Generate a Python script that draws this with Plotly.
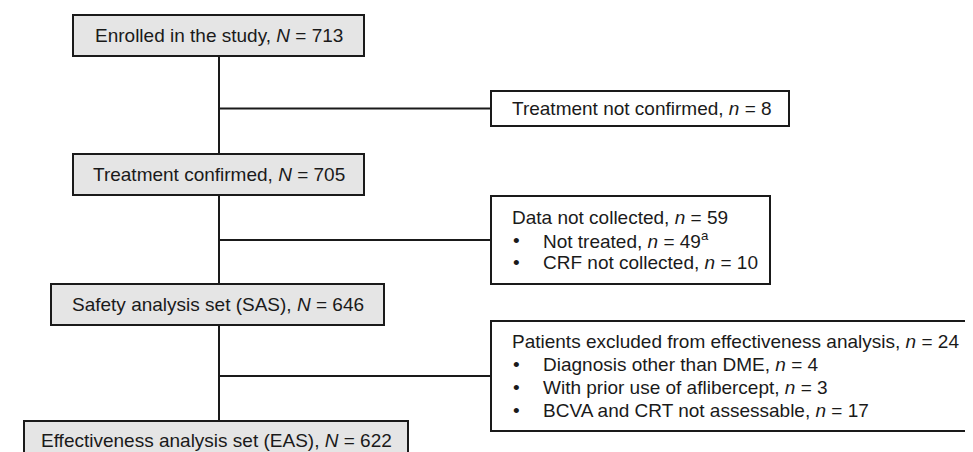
import plotly.graph_objects as go

# ---- data (flow counts and labels) ----
main_labels = ["Enrolled in the study", "Treatment confirmed",
               "Safety analysis set (SAS)", "Effectiveness analysis set (EAS)"]
main_counts = [713, 705, 646, 622]

side_headers = ["Treatment not confirmed", "Data not collected",
                "Patients excluded from effectiveness analysis"]
side_counts = [8, 59, 24]
side_items = [
    [],
    [("Not treated", 49, "a"), ("CRF not collected", 10, "")],
    [("Diagnosis other than DME", 4, ""), ("With prior use of aflibercept", 3, ""),
     ("BCVA and CRT not assessable", 17, "")],
]

# ---- geometry (pixel space of the 973 x 452 canvas) ----
W, H = 973, 452
main_boxes = [(65, 7, 356, 48), (65, 146, 356, 187), (43, 276, 376, 317), (16, 413, 400, 451)]
side_boxes = [(483, 83, 781, 118), (483, 188, 762, 276), (483, 313, 967, 423)]
spine_x = 211
text_x, bullet_x, item_x = 502, 503, 533
line_gap = 22.7

FONT = "Liberation Sans, Arial, sans-serif"
FS = 19
INK = "#1a1a1a"
GRAY = "#e5e5e5"

fig = go.Figure()
shapes = []
annots = []

# spine segments between main boxes
for (a, b) in zip(main_boxes[:-1], main_boxes[1:]):
    shapes.append(dict(type="line", x0=spine_x, x1=spine_x, y0=a[3], y1=b[1],
                       line=dict(color=INK, width=2)))

# main boxes
for box, lab, n in zip(main_boxes, main_labels, main_counts):
    x0, y0, x1, y1 = box
    shapes.append(dict(type="rect", x0=x0, y0=y0, x1=x1, y1=y1,
                       fillcolor=GRAY, line=dict(color=INK, width=2)))
    annots.append(dict(x=(x0 + x1) / 2, y=(y0 + y1) / 2, text=f"{lab}, <i>N</i> = {n}",
                       xanchor="center", yanchor="middle", showarrow=False,
                       font=dict(family=FONT, size=FS, color=INK)))

# side boxes and connectors
for box, head, n, items in zip(side_boxes, side_headers, side_counts, side_items):
    x0, y0, x1, y1 = box
    cy = (y0 + y1) / 2
    shapes.append(dict(type="line", x0=spine_x, x1=x0, y0=cy, y1=cy,
                       line=dict(color=INK, width=2)))
    shapes.append(dict(type="rect", x0=x0, y0=y0, x1=x1, y1=y1,
                       fillcolor="white", line=dict(color=INK, width=2)))
    nlines = 1 + len(items)
    top = cy - line_gap * (nlines - 1) / 2
    annots.append(dict(x=text_x, y=top, text=f"{head}, <i>n</i> = {n}",
                       xanchor="left", yanchor="middle", showarrow=False,
                       font=dict(family=FONT, size=FS, color=INK)))
    for k, (lab, cnt, sup) in enumerate(items, start=1):
        yy = top + k * line_gap
        annots.append(dict(x=bullet_x, y=yy, text="•", xanchor="left", yanchor="middle",
                           showarrow=False, font=dict(family=FONT, size=FS, color=INK)))
        s = f"<sup>{sup}</sup>" if sup else ""
        annots.append(dict(x=item_x, y=yy, text=f"{lab}, <i>n</i> = {cnt}{s}",
                           xanchor="left", yanchor="middle", showarrow=False,
                           font=dict(family=FONT, size=FS, color=INK)))

fig.update_layout(
    width=W, height=H, margin=dict(l=0, r=0, t=0, b=0),
    paper_bgcolor="white", plot_bgcolor="white",
    xaxis=dict(range=[0, W], visible=False, fixedrange=True),
    yaxis=dict(range=[H, 0], visible=False, fixedrange=True),
    shapes=shapes, annotations=annots, showlegend=False,
)
fig.write_html("out.html")
